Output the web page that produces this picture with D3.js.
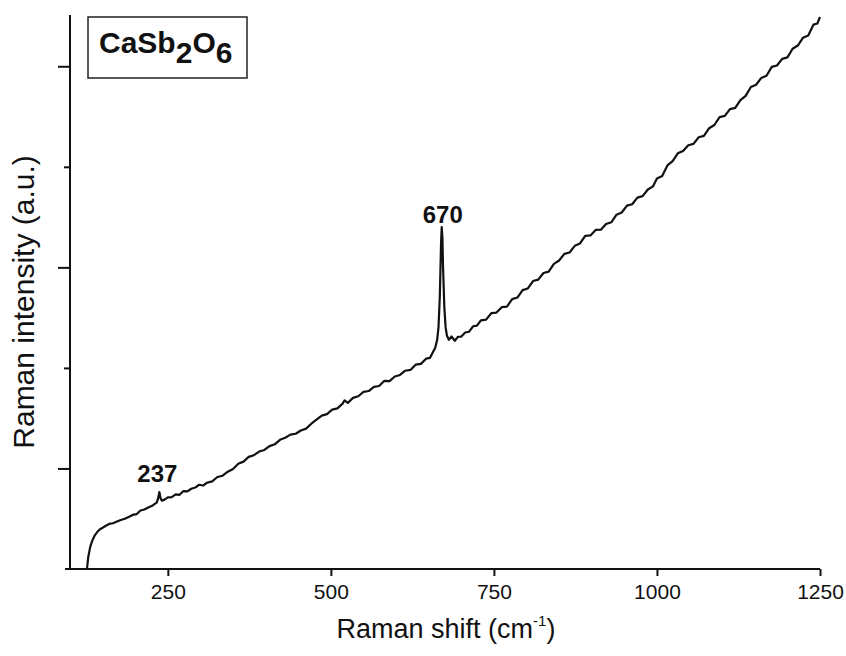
<!DOCTYPE html>
<html><head><meta charset="utf-8">
<script src="https://cdn.jsdelivr.net/npm/d3@7"></script>
<style>
body{margin:0;background:#fff;}
text{font-family:"Liberation Sans",Arial,sans-serif;fill:#111;}
</style></head>
<body><svg id="chart" width="846" height="656"></svg>
<script>
// Raman shift (cm-1)
const shift = [126,128,131,134,138,142,146,150,155,160,166,172,178,184,190,196,202,208,214,220,226,230,233,235,237,239,241,
245,250,256,262,268,274,280,286,292,298,304,310,318,326,334,342,350,358,366,374,382,390,398,406,414,422,430,438,446,454,462,470,478,486,494,502,510,518,521,526,534,542,550,558,566,574,582,590,598,606,614,622,630,638,646,652,656,
660,663,665,667,669,670,671,672,674,676,678,
681,685,690,695,700,706,712,718,724,730,738,746,754,762,770,778,786,794,802,810,818,826,834,842,850,858,866,874,882,890,898,906,914,922,930,938,946,954,962,970,978,986,994,1000,1008,1016,1024,1032,1040,1048,1056,1064,1072,1080,1088,1096,1104,1112,1120,1128,1136,1144,1152,1160,1168,1176,1184,1192,1200,1208,1216,1224,1232,1240,1246,1250];
// Raman intensity (a.u.)
const intensity = [0,120,220,280,335,370,395,410,430,448,455,472,488,500,518,538,545,582,592,612,628,648,660,700,765,700,680,
690,712,715,742,738,775,772,798,810,838,830,858,872,915,928,968,995,1046,1068,1115,1132,1168,1184,1222,1240,1285,1305,1336,1345,1378,1396,1445,1485,1525,1540,1585,1598,1645,1678,1652,1702,1718,1762,1770,1812,1820,1872,1868,1915,1930,1972,1980,2032,2040,2092,2100,2150,
2200,2280,2400,2700,3250,3400,3300,3000,2600,2400,2320,
2280,2312,2270,2310,2312,2352,2360,2414,2420,2472,2480,2544,2550,2604,2610,2684,2700,2774,2790,2864,2878,2944,2958,3034,3068,3134,3148,3214,3238,3314,3318,3372,3374,3432,3448,3524,3546,3614,3628,3694,3708,3774,3806,3884,3908,4014,4056,4134,4158,4214,4228,4294,4308,4384,4416,4494,4506,4574,4586,4664,4706,4794,4816,4884,4906,4994,5008,5074,5088,5174,5206,5284,5306,5414,5426,5490];
const xTicks = [250,500,750,1000,1250];
const yMajor = [1000,3000,5000];
const yMinor = [2000,4000];
const peaks = [{pos:237,label:"237"},{pos:670,label:"670"}];

const svg = d3.select("#chart");
const x = d3.scaleLinear().domain([100,1250]).range([70,820]);
const y = d3.scaleLinear().domain([0,5500]).range([569,16]);

// curve
const pts = shift.map((s,i)=>[s,intensity[i]]);
svg.append("path").datum(pts)
  .attr("fill","none").attr("stroke","#111").attr("stroke-width",2.2)
  .attr("stroke-linejoin","round")
  .attr("d", d3.line().x(d=>x(d[0])).y(d=>y(d[1])));

// x axis
const xAxis = svg.append("g").attr("transform","translate(0,569)")
  .call(d3.axisBottom(x).tickValues(xTicks).tickFormat(d3.format("d")).tickSize(7).tickPadding(10).tickSizeOuter(0));
xAxis.select(".domain").attr("d","M65,0H820").attr("stroke","#111").attr("stroke-width",2);
xAxis.selectAll(".tick line").attr("stroke","#111").attr("stroke-width",2);
xAxis.selectAll(".tick text").attr("font-size",21).attr("fill","#111").attr("dy","0.6em");

// y axis
const yAxis = svg.append("g").attr("transform","translate(70,0)")
  .call(d3.axisLeft(y).tickValues(yMajor).tickSize(12).tickFormat("").tickSizeOuter(0));
yAxis.select(".domain").attr("d","M0,15V570").attr("stroke","#111").attr("stroke-width",2);
yAxis.selectAll(".tick line").attr("stroke","#111").attr("stroke-width",2);
const yAxis2 = svg.append("g").attr("transform","translate(70,0)")
  .call(d3.axisLeft(y).tickValues(yMinor).tickSize(6).tickFormat("").tickSizeOuter(0));
yAxis2.select(".domain").remove();
yAxis2.selectAll(".tick line").attr("stroke","#111").attr("stroke-width",2);

// axis titles
const xt = svg.append("text").attr("x",446).attr("y",638).attr("text-anchor","middle").attr("font-size",27);
xt.append("tspan").text("Raman shift (cm");
xt.append("tspan").text("-1").attr("font-size",15).attr("dy",-12);
xt.append("tspan").text(")").attr("dy",12);

svg.append("text").attr("transform","translate(34,302) rotate(-90)")
  .attr("text-anchor","middle").attr("font-size",30).text("Raman intensity (a.u.)");

// peak labels
svg.selectAll(".peak").data(peaks).enter().append("text")
  .attr("class","peak")
  .attr("x",d=>x(d.pos)-(d.pos===237?2:-1))
  .attr("y",d=>d.pos===237?482:223)
  .attr("text-anchor","middle").attr("font-size",24).attr("font-weight","bold")
  .text(d=>d.label);

// title box
svg.append("rect").attr("x",88).attr("y",17).attr("width",159).attr("height",61)
  .attr("fill","#fff").attr("stroke","#222").attr("stroke-width",1.5);
const tt = svg.append("text").attr("x",99).attr("y",53).attr("font-size",30).attr("font-weight","bold");
tt.append("tspan").text("CaSb");
tt.append("tspan").text("2").attr("dy",10);
tt.append("tspan").text("O").attr("dy",-10);
tt.append("tspan").text("6").attr("dy",10);
</script></body></html>
